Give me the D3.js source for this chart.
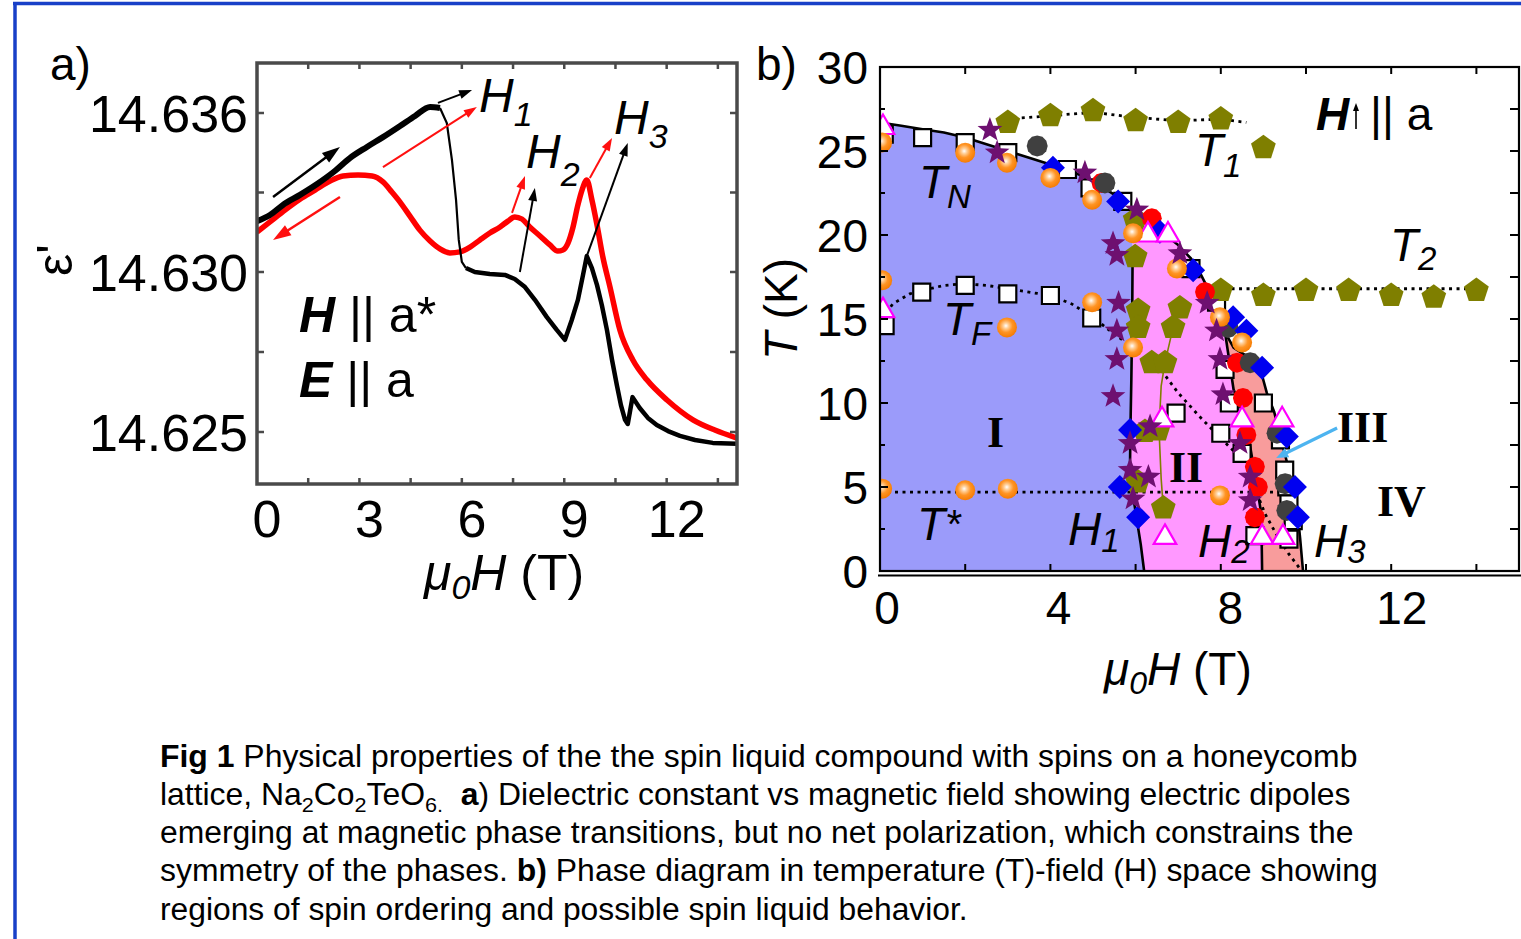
<!DOCTYPE html>
<html>
<head>
<meta charset="utf-8">
<script src="https://cdn.jsdelivr.net/npm/d3@7/dist/d3.min.js"></script>
<style>
html,body{margin:0;padding:0;background:#ffffff;overflow:hidden;}
svg{display:block;}
text{white-space:pre;}
</style>
</head>
<body>
<svg id="fig" width="1521" height="939" xmlns="http://www.w3.org/2000/svg"></svg>
<script>
// ================= Panel a data: dielectric constant vs field =================
const aTickLabelsX = [0, 3, 6, 9, 12];
const aMinorX = [1.5, 3, 4.5, 6, 7.5, 9, 10.5, 12, 13.5];
const aTickValuesY = [14.625, 14.630, 14.636];
const aTickLabelsY = ['14.625', '14.630', '14.636'];
const aMinorY = [14.6275, 14.633];

// black: field up-sweep [H (T), eps']
const blackUp = [[0,14.63192],[0.38,14.63215],[0.76,14.63253],[1.26,14.63291],[1.76,14.63332],[2.28,14.63381],[2.72,14.63430],[3.22,14.63472],[3.69,14.63509],[4.19,14.63551],[4.63,14.63589],[5.07,14.63623],[5.36,14.63619]];
const blackDrop = [[5.36,14.63619],[5.56,14.63562],[5.71,14.63423],[5.83,14.63272],[5.91,14.63121],[6.0,14.63038],[6.12,14.63015]];
const blackHigh = [[6.12,14.63015],[6.38,14.63000],[6.82,14.62994],[7.26,14.62991],[7.55,14.62978],[7.85,14.62953],[8.14,14.62913],[8.49,14.62859],[8.78,14.62819],[9.02,14.62788],[9.22,14.62850],[9.40,14.62913],[9.55,14.62991],[9.66,14.63060],[9.81,14.63015],[9.96,14.62959],[10.10,14.62897],[10.25,14.62819],[10.40,14.62725],[10.54,14.62647],[10.66,14.62584],[10.78,14.62538],[10.86,14.62525],[11.0,14.62609],[11.21,14.62575],[11.45,14.62544],[11.71,14.62522],[12.04,14.62503],[12.39,14.62488],[12.83,14.62475],[13.35,14.62466],[14.06,14.62463]];
// red: field down-sweep
const redSweep = [[0,14.63151],[0.38,14.63189],[0.82,14.63234],[1.26,14.63275],[1.70,14.63309],[2.14,14.63343],[2.52,14.63362],[2.96,14.63366],[3.37,14.63362],[3.69,14.63340],[3.95,14.63302],[4.19,14.63264],[4.48,14.63211],[4.77,14.63158],[5.07,14.63117],[5.36,14.63087],[5.65,14.63072],[5.94,14.63076],[6.24,14.63094],[6.53,14.63121],[6.82,14.63147],[7.12,14.63170],[7.35,14.63192],[7.55,14.63208],[7.76,14.63200],[7.99,14.63170],[8.29,14.63136],[8.58,14.63102],[8.81,14.63079],[8.96,14.63083],[9.11,14.63109],[9.25,14.63166],[9.40,14.63253],[9.52,14.63309],[9.66,14.63347],[9.81,14.63272],[9.96,14.63177],[10.13,14.63057],[10.34,14.62953],[10.63,14.62819],[11.01,14.62725],[11.42,14.62663],[12.01,14.62600],[12.77,14.62538],[13.41,14.62506],[14.06,14.62481]];
// annotation arrows [from, to] in data units
const blackArrows = [
  [[0.47,14.63283],[2.43,14.63472]],
  [[5.30,14.63638],[6.30,14.63687]],
  [[7.70,14.63000],[8.14,14.63317]],
  [[9.66,14.63060],[10.86,14.63487]]
];
const redArrows = [
  [[3.69,14.63396],[6.44,14.63623]],
  [[2.43,14.63283],[0.47,14.63121]],
  [[7.47,14.63223],[7.85,14.63362]],
  [[9.75,14.63355],[10.40,14.63506]]
];

// ================= Panel b data: T-H phase diagram =================
const bTickLabelsX = [0, 4, 8, 12];
const bMinorX = [2, 4, 6, 8, 10, 12, 14];
const bTickLabelsY = [0, 5, 10, 15, 20, 25, 30];
const bMinorY = [2.5, 5, 7.5, 10, 12.5, 15, 17.5, 20, 22.5, 25, 27.5];

const boundaryTN = [[0,26.7],[0.5,26.5],[1,26.3],[1.5,26.1],[2,25.8],[2.5,25.4],[3,25.0],[3.5,24.6],[4,24.2],[4.5,23.8],[5,23.2],[5.5,22.4],[6,21.4],[6.5,20.4],[7,19.4],[7.3,18.6],[7.5,17.8],[7.8,16.3],[8.0,15.1],[8.1,14.2],[8.3,13.3],[8.6,12.8],[8.92,12.1],[9.08,10.6],[9.25,9.5],[9.4,8.0],[9.55,6.5],[9.7,5.0],[9.8,3.5],[9.86,2.0],[9.93,0]];
const boundaryH1 = [[5.93,21.5],[5.93,19],[5.92,15],[5.9,11.4],[5.88,8.6],[5.87,6.5],[5.92,4.8],[6.02,3.2],[6.12,1.6],[6.2,0]];
const boundaryH2 = [[8.1,14.2],[8.2,12.5],[8.3,10.8],[8.5,9.5],[8.65,8.0],[8.75,6.5],[8.85,5.0],[8.95,3.4],[8.97,0]];
const lineTF = [[0.05,15.0],[0.3,15.9],[0.7,16.5],[1,16.7],[1.5,17.0],[2,17.1],[2.5,17.0],[3,16.8],[3.5,16.6],[4,16.4],[4.5,15.9],[5,15.1],[5.5,14.1],[5.9,13.4]];
const lineTstar = [[0,4.7],[9.45,4.7]];
const lineT1 = [[2.8,26.9],[3.5,27.0],[4,27.1],[5,27.3],[6,27.0],[7,26.8],[8,26.9],[8.6,26.7]];
const lineT2 = [[7.9,16.8],[14.2,16.8]];
const lineInner = [[6.5,12.3],[7.0,10.6],[7.5,9.2],[8.0,7.9],[8.4,6.9],[8.62,6.2],[8.85,4.6],[9.04,3.4],[9.3,2.2],[9.6,1.0],[9.9,0]];
const lineOlive = [[7.04,15.65],[6.88,14.5],[6.69,12.4],[6.6,11.0],[6.55,8.4],[6.6,5.5],[6.65,3.75]];

const ptsSquare = [[0.1,26.0],[1.0,25.8],[2.0,25.5],[3.0,24.9],[4.4,23.9],[4.93,22.8],[5.7,22.0],[7.3,18.0],[7.9,16.0],[8.1,12.0],[8.2,10.0],[9.0,10.0],[6.95,9.4],[8.0,8.2],[8.5,7.0],[9.4,7.8],[9.5,6.0],[9.55,5.0],[9.6,4.0],[9.7,3.0],[9.6,1.9],[8.8,2.1],[0.12,14.6],[0.98,16.6],[2.0,17.0],[3.0,16.5],[4.0,16.4],[4.97,15.06]];
const ptsOlive = [[3,26.7],[4,27.1],[5,27.4],[6,26.8],[7,26.7],[8,26.9],[9,25.2],[8,16.7],[9,16.4],[10,16.7],[11,16.7],[12,16.4],[13,16.3],[14,16.7],[5.99,20.9],[5.99,18.7],[6.06,15.5],[6.06,14.5],[7.04,15.65],[6.88,14.5],[6.38,12.4],[6.69,12.4],[6.22,8.3],[6.53,8.4],[6.05,5.3],[6.65,3.75]];
const ptsRed = [[5.2,23.1],[6.38,21.0],[7.63,16.6],[8.38,12.4],[8.52,10.3],[8.6,8.1],[8.8,6.2],[8.87,5.0],[8.8,3.2]];
const ptsGray = [[3.69,25.3],[5.28,23.1],[8.17,14.5],[8.69,12.4],[9.32,8.2],[9.51,5.2],[9.55,3.6]];
const ptsDiamond = [[4.06,24.0],[5.59,22.0],[6.57,20.2],[7.35,17.9],[8.29,15.1],[8.6,14.3],[8.97,12.1],[5.87,8.4],[5.63,5.0],[6.06,3.2],[9.55,8.0],[9.74,5.0],[9.81,3.2]];
const ptsTriangle = [[0.07,26.4],[0.07,15.5],[6.29,20.0],[6.76,20.0],[6.62,9.0],[8.5,9.0],[9.44,9.0],[6.69,2.0],[8.97,2.0],[9.46,2.0]];
const ptsOrange = [[0.05,25.5],[2.0,24.9],[2.98,24.3],[4.0,23.4],[4.98,22.1],[5.94,20.1],[6.97,18.0],[0.05,17.3],[4.98,16.0],[2.98,14.5],[5.94,13.3],[7.98,15.1],[8.5,13.6],[0.05,4.9],[2.0,4.8],[3.0,4.9],[7.98,4.5]];
const ptsStar = [[2.58,26.25],[2.75,24.9],[4.81,23.7],[6.03,21.5],[5.47,19.5],[5.56,18.8],[7.04,18.9],[7.68,15.95],[5.6,15.95],[5.56,14.3],[7.9,14.3],[5.56,12.6],[7.98,12.6],[5.47,10.4],[8.05,10.5],[6.34,8.6],[8.45,7.6],[5.87,7.6],[5.87,6.0],[6.3,5.6],[8.69,5.6],[5.94,4.3],[8.69,4.2]];
const arrowIII = [[10.73,8.51],[9.30,6.73]];

// ================= Caption =================
const captionLines = [
  [{t:'Fig 1', b:true}, {t:' Physical properties of the the spin liquid compound with spins on a honeycomb'}],
  [{t:'lattice, Na'}, {t:'2', sub:true}, {t:'Co'}, {t:'2', sub:true}, {t:'TeO'}, {t:'6.', sub:true}, {t:'  '}, {t:'a', b:true}, {t:') Dielectric constant vs magnetic field showing electric dipoles'}],
  [{t:'emerging at magnetic phase transitions, but no net polarization, which constrains the'}],
  [{t:'symmetry of the phases. '}, {t:'b)', b:true}, {t:' Phase diagram in temperature (T)-field (H) space showing'}],
  [{t:'regions of spin ordering and possible spin liquid behavior.'}]
];
const captionWidths = [1198, 1191, 1194, 1218, 808];

// ================= Drawing =================
const svg = d3.select('#fig');
const SANS = "'Liberation Sans', Arial, Helvetica, sans-serif";
const SERIF = "'Liberation Serif', 'Times New Roman', serif";
const NARROW = "'Liberation Sans Narrow', 'Arial Narrow', 'Liberation Sans', Arial, sans-serif";
const defs = svg.append('defs');

// outer blue frame
svg.append('line').attr('x1', 13).attr('x2', 1521).attr('y1', 3.5).attr('y2', 3.5)
  .attr('stroke', '#1840c8').attr('stroke-width', 3.5);
svg.append('line').attr('x1', 15).attr('x2', 15).attr('y1', 2).attr('y2', 939)
  .attr('stroke', '#1840c8').attr('stroke-width', 3.5);

function arrow(g, x1, y1, x2, y2, color, width, len, hw) {
  const a = Math.atan2(y2 - y1, x2 - x1);
  const bx = x2 - len * Math.cos(a), by = y2 - len * Math.sin(a);
  g.append('line').attr('x1', x1).attr('y1', y1).attr('x2', bx + 2 * Math.cos(a)).attr('y2', by + 2 * Math.sin(a))
    .attr('stroke', color).attr('stroke-width', width);
  const px = -Math.sin(a) * hw, py = Math.cos(a) * hw;
  g.append('path').attr('d', `M${x2},${y2}L${bx + px},${by + py}L${bx - px},${by - py}Z`).attr('fill', color);
}

function subLabel(g, x, y, main, sub, size, subSize, subDy, opts) {
  opts = opts || {};
  const t = g.append('text').attr('x', x).attr('y', y).attr('font-family', SANS)
    .attr('font-size', size).attr('font-style', 'italic').attr('fill', '#000');
  t.append('tspan').text(main);
  t.append('tspan').attr('font-size', subSize).attr('dy', subDy).attr('dx', opts.subDx || 0).text(sub);
  return t;
}

// ---------------- Panel a ----------------
const xA = d3.scaleLinear().domain([0, 14.06]).range([257, 737]);
const yA = d3.scaleLinear().domain([14.625, 14.630, 14.636]).range([432, 272, 113]);
const gA = svg.append('g');
defs.append('clipPath').attr('id', 'clipA').append('rect')
  .attr('x', 257).attr('y', 63).attr('width', 480).attr('height', 421);

const lineA = d3.line().x(d => xA(d[0])).y(d => yA(d[1]));
const lineAs = d3.line().x(d => xA(d[0])).y(d => yA(d[1])).curve(d3.curveMonotoneX);
const curvesA = gA.append('g').attr('clip-path', 'url(#clipA)');

curvesA.append('path').datum(redSweep).attr('d', lineAs).attr('fill', 'none')
  .attr('stroke', '#ff0000').attr('stroke-width', 5.5).attr('stroke-linejoin', 'round');
curvesA.append('path').datum(blackUp).attr('d', lineAs).attr('fill', 'none')
  .attr('stroke', '#000').attr('stroke-width', 6).attr('stroke-linejoin', 'round');
curvesA.append('path').datum(blackDrop).attr('d', lineA).attr('fill', 'none')
  .attr('stroke', '#000').attr('stroke-width', 2.2);
curvesA.append('path').datum(blackHigh).attr('d', lineA).attr('fill', 'none')
  .attr('stroke', '#000').attr('stroke-width', 4.5).attr('stroke-linejoin', 'round');

blackArrows.forEach((a, i) => arrow(curvesA, xA(a[0][0]), yA(a[0][1]), xA(a[1][0]), yA(a[1][1]), '#000', i === 0 ? 2.5 : 2, i === 0 ? 18 : 13, i === 0 ? 6 : 4.5));
redArrows.forEach((a, i) => arrow(curvesA, xA(a[0][0]), yA(a[0][1]), xA(a[1][0]), yA(a[1][1]), '#ff1010', i === 1 ? 2.5 : 2, i === 1 ? 18 : 13, i === 1 ? 6 : 4.5));

// frame & ticks a
gA.append('rect').attr('x', 257).attr('y', 63).attr('width', 480).attr('height', 421)
  .attr('fill', 'none').attr('stroke', '#4a4a4a').attr('stroke-width', 3.5);
aMinorX.forEach(v => {
  gA.append('line').attr('x1', xA(v)).attr('x2', xA(v)).attr('y1', 484).attr('y2', 478).attr('stroke', '#4a4a4a').attr('stroke-width', 2.5);
  gA.append('line').attr('x1', xA(v)).attr('x2', xA(v)).attr('y1', 63).attr('y2', 69).attr('stroke', '#4a4a4a').attr('stroke-width', 2.5);
});
aTickValuesY.concat(aMinorY).forEach(v => {
  gA.append('line').attr('x1', 257).attr('x2', 264).attr('y1', yA(v)).attr('y2', yA(v)).attr('stroke', '#4a4a4a').attr('stroke-width', 2.5);
  gA.append('line').attr('x1', 737).attr('x2', 730).attr('y1', yA(v)).attr('y2', yA(v)).attr('stroke', '#4a4a4a').attr('stroke-width', 2.5);
});
aTickValuesY.forEach((v, i) => {
  gA.append('text').attr('x', 248).attr('y', yA(v) + 18.5).attr('text-anchor', 'end')
    .attr('font-family', SANS).attr('font-size', 52).attr('fill', '#000').text(aTickLabelsY[i]);
});
aTickLabelsX.forEach(v => {
  gA.append('text').attr('x', xA(v) + 10).attr('y', 537).attr('text-anchor', 'middle')
    .attr('font-family', SANS).attr('font-size', 52).attr('fill', '#000').text(v);
});
// axis titles a
{
  const t = gA.append('text').attr('x', 424).attr('y', 590).attr('font-family', SANS).attr('font-size', 50).attr('fill', '#000');
  t.append('tspan').attr('font-style', 'italic').text('\u03bc');
  t.append('tspan').attr('font-style', 'italic').attr('font-size', 34).attr('dy', 9).text('0');
  t.append('tspan').attr('font-style', 'italic').attr('dy', -9).text('H');
  t.append('tspan').text(' (T)');
  gA.append('text').attr('transform', 'translate(72,260) rotate(-90)').attr('text-anchor', 'middle')
    .attr('font-family', SANS).attr('font-size', 50).attr('fill', '#000').text("\u03b5'");
}
// labels a
svg.append('text').attr('x', 50).attr('y', 80).attr('font-family', SANS).attr('font-size', 46).attr('fill', '#000').text('a)');
subLabel(gA, 479, 112, 'H', '1', 48, 34, 14);
subLabel(gA, 526, 168, 'H', '2', 48, 34, 18);
subLabel(gA, 614, 134, 'H', '3', 48, 34, 14);
{
  const t1 = gA.append('text').attr('x', 299).attr('y', 332).attr('font-family', SANS).attr('font-size', 50).attr('fill', '#000');
  t1.append('tspan').attr('font-weight', 'bold').attr('font-style', 'italic').text('H');
  t1.append('tspan').text(' || a*');
  const t2 = gA.append('text').attr('x', 299).attr('y', 397).attr('font-family', SANS).attr('font-size', 50).attr('fill', '#000');
  t2.append('tspan').attr('font-weight', 'bold').attr('font-style', 'italic').text('E');
  t2.append('tspan').text(' || a');
}

// ---------------- Panel b ----------------
const xB = d3.scaleLinear().domain([0, 15]).range([880, 1519]);
const yB = d3.scaleLinear().domain([0, 30]).range([571, 67]);
const gB = svg.append('g');
defs.append('clipPath').attr('id', 'clipB').append('rect')
  .attr('x', 880).attr('y', 67).attr('width', 639).attr('height', 504);
const plotB = gB.append('g').attr('clip-path', 'url(#clipB)');
const lineB = d3.line().x(d => xB(d[0])).y(d => yB(d[1]));

// regions
const regionI = [[0, 0]].concat(boundaryTN.filter(p => p[0] < 5.93), boundaryH1);
const regionII = boundaryH1.concat(boundaryH2.slice().reverse(), boundaryTN.filter(p => p[0] > 5.93 && p[0] < 8.1).reverse());
const regionIII = boundaryTN.filter(p => p[0] >= 8.1).concat(boundaryH2.slice().reverse());
plotB.append('path').attr('d', lineB(regionI) + 'Z').attr('fill', '#9b9bfa');
plotB.append('path').attr('d', lineB(regionII) + 'Z').attr('fill', '#ff98ff');
plotB.append('path').attr('d', lineB(regionIII) + 'Z').attr('fill', '#f89c9c');

// lines
const solid = (d) => plotB.append('path').datum(d).attr('d', lineB).attr('fill', 'none').attr('stroke', '#000').attr('stroke-width', 2.6).attr('stroke-linejoin', 'round');
const dotted = (d) => plotB.append('path').datum(d).attr('d', lineB).attr('fill', 'none').attr('stroke', '#000').attr('stroke-width', 2.8).attr('stroke-dasharray', '3,4.5');
solid(boundaryTN);
solid(boundaryH1.slice(1));
solid(boundaryH2);
[lineTF, lineTstar, lineT1, lineT2, lineInner].forEach(dotted);
plotB.append('path').datum(lineOlive).attr('d', lineB).attr('fill', 'none').attr('stroke', '#808000').attr('stroke-width', 1.6);

// marker shapes
function starPath(R, r) {
  let p = '';
  for (let i = 0; i < 10; i++) {
    const a = -Math.PI / 2 + i * Math.PI / 5, rad = i % 2 ? r : R;
    p += (i ? 'L' : 'M') + (rad * Math.cos(a)).toFixed(2) + ',' + (rad * Math.sin(a)).toFixed(2);
  }
  return p + 'Z';
}
function polyPath(n, R, rot) {
  let p = '';
  for (let i = 0; i < n; i++) {
    const a = rot + i * 2 * Math.PI / n;
    p += (i ? 'L' : 'M') + (R * Math.cos(a)).toFixed(2) + ',' + (R * Math.sin(a)).toFixed(2);
  }
  return p + 'Z';
}
const grad = defs.append('radialGradient').attr('id', 'ball').attr('cx', '45%').attr('cy', '42%').attr('r', '60%');
grad.append('stop').attr('offset', '0%').attr('stop-color', '#ffffff');
grad.append('stop').attr('offset', '22%').attr('stop-color', '#ffd09a');
grad.append('stop').attr('offset', '55%').attr('stop-color', '#ff9424');
grad.append('stop').attr('offset', '100%').attr('stop-color', '#f47a00');

function markers(data, d, fill, stroke, sw) {
  plotB.append('g').selectAll('path').data(data).join('path')
    .attr('transform', p => `translate(${xB(p[0])},${yB(p[1])})`)
    .attr('d', d).attr('fill', fill).attr('stroke', stroke || 'none').attr('stroke-width', sw || 0);
}
markers(ptsSquare, 'M-8.5,-8.5H8.5V8.5H-8.5Z', '#ffffff', '#000', 2.2);
markers(ptsOlive, polyPath(5, 13, -Math.PI / 2), '#7f7f00');
markers(ptsRed, polyPath(12, 10, 0), '#ff0000');
markers(ptsGray, polyPath(12, 10.5, 0), '#404040');
markers(ptsDiamond, 'M0,-12L12,0L0,12L-12,0Z', '#0000f0');
markers(ptsTriangle, polyPath(3, 13, -Math.PI / 2), '#ffffff', '#ff00ff', 2.2);
markers(ptsOrange, polyPath(16, 10, 0), 'url(#ball)');
markers(ptsStar, starPath(13, 5.4), '#6e1070');

// III pointer
arrow(plotB, xB(arrowIII[0][0]), yB(arrowIII[0][1]), xB(arrowIII[1][0]), yB(arrowIII[1][1]), '#4db4f0', 3.2, 12, 5);

// frame & ticks b
gB.append('rect').attr('x', 880).attr('y', 67).attr('width', 639).attr('height', 504)
  .attr('fill', 'none').attr('stroke', '#000').attr('stroke-width', 2.2);
gB.append('line').attr('x1', 878).attr('x2', 1521).attr('y1', 575.5).attr('y2', 575.5).attr('stroke', '#000').attr('stroke-width', 2);
bMinorX.forEach(v => {
  gB.append('line').attr('x1', xB(v)).attr('x2', xB(v)).attr('y1', 571).attr('y2', 564).attr('stroke', '#000').attr('stroke-width', 2);
  gB.append('line').attr('x1', xB(v)).attr('x2', xB(v)).attr('y1', 67).attr('y2', 74).attr('stroke', '#000').attr('stroke-width', 2);
});
bMinorY.forEach(v => {
  const len = (v % 5 === 0) ? 8 : 5;
  gB.append('line').attr('x1', 880).attr('x2', 880 + len).attr('y1', yB(v)).attr('y2', yB(v)).attr('stroke', '#000').attr('stroke-width', 2);
  gB.append('line').attr('x1', 1519).attr('x2', 1510).attr('y1', yB(v)).attr('y2', yB(v)).attr('stroke', '#000').attr('stroke-width', 2);
});
bTickLabelsY.forEach(v => {
  gB.append('text').attr('x', 868).attr('y', yB(v) + 16.5).attr('text-anchor', 'end')
    .attr('font-family', SANS).attr('font-size', 46).attr('fill', '#000').text(v);
});
bTickLabelsX.forEach(v => {
  gB.append('text').attr('x', xB(v) + 7 + 0.3 * v).attr('y', 624).attr('text-anchor', 'middle')
    .attr('font-family', SANS).attr('font-size', 46).attr('fill', '#000').text(v);
});
{
  const t = gB.append('text').attr('x', 1104).attr('y', 685).attr('font-family', SANS).attr('font-size', 46).attr('fill', '#000');
  t.append('tspan').attr('font-style', 'italic').text('\u03bc');
  t.append('tspan').attr('font-style', 'italic').attr('font-size', 32).attr('dy', 9).text('0');
  t.append('tspan').attr('font-style', 'italic').attr('dy', -9).text('H');
  t.append('tspan').text(' (T)');
  const ty = gB.append('text').attr('transform', 'translate(797,309) rotate(-90)').attr('text-anchor', 'middle')
    .attr('font-family', SANS).attr('font-size', 46).attr('fill', '#000');
  ty.append('tspan').attr('font-style', 'italic').text('T');
  ty.append('tspan').text(' (K)');
}
svg.append('text').attr('x', 756).attr('y', 80).attr('font-family', SANS).attr('font-size', 46).attr('fill', '#000').text('b)');

// annotations b
subLabel(gB, 919, 198, 'T', 'N', 46, 33, 10);
subLabel(gB, 943, 335, 'T', 'F', 46, 33, 10);
{
  const t = gB.append('text').attr('x', 917).attr('y', 540).attr('font-family', SANS).attr('font-size', 46).attr('font-style', 'italic').attr('fill', '#000');
  t.append('tspan').text('T');
  t.append('tspan').attr('font-size', 40).attr('dy', -2).text('*');
}
subLabel(gB, 1068, 545, 'H', '1', 46, 33, 7);
subLabel(gB, 1198, 557, 'H', '2', 46, 33, 6);
subLabel(gB, 1314, 557, 'H', '3', 46, 33, 6);
subLabel(gB, 1195, 166, 'T', '1', 46, 33, 11);
subLabel(gB, 1390, 261, 'T', '2', 46, 33, 9);
{
  gB.append('text').attr('x', 1316).attr('y', 130).attr('font-family', SANS).attr('font-size', 46)
    .attr('font-weight', 'bold').attr('font-style', 'italic').attr('fill', '#000').text('H');
  arrow(gB, 1356, 129, 1356, 103, '#000', 1.6, 8, 3);
  gB.append('text').attr('x', 1370).attr('y', 130).attr('font-family', SANS).attr('font-size', 46)
    .attr('fill', '#000').text('|| a');
}
const roman = (x, y, s) => gB.append('text').attr('x', x).attr('y', y).attr('font-family', SERIF)
  .attr('font-size', 44).attr('font-weight', 'bold').attr('fill', '#000').text(s);
roman(987, 447, 'I');
roman(1169, 482, 'II');
roman(1337, 442, 'III');
roman(1377, 516, 'IV');

// ---------------- Caption ----------------
const capBase = [767, 805, 843, 881, 920];
captionLines.forEach((parts, i) => {
  const t = svg.append('text').attr('x', 0).attr('y', 0)
    .attr('font-family', NARROW).attr('font-size', 31).attr('fill', '#000');
  let shift = 0;
  parts.forEach(p => {
    const target = p.sub ? 7 : 0;
    const ts = t.append('tspan').text(p.t).attr('dy', target - shift);
    shift = target;
    if (p.b) ts.attr('font-weight', 'bold');
    if (p.sub) ts.attr('font-size', 21);
  });
  const len = t.node().getComputedTextLength();
  const s = captionWidths[i] / len;
  t.attr('transform', `translate(160,${capBase[i]}) scale(${s},1)`);
});
</script>
</body>
</html>
